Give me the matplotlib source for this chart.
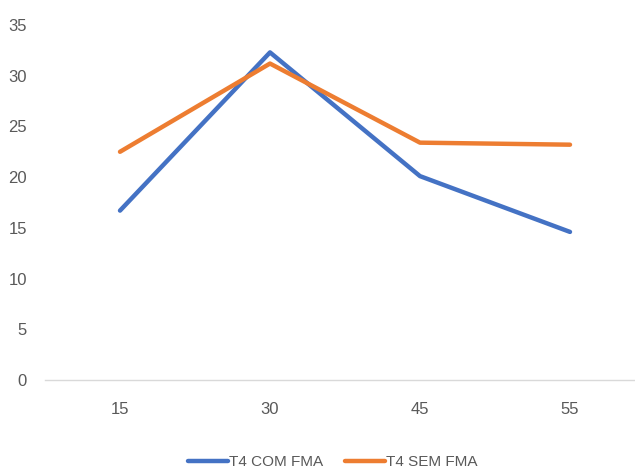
import matplotlib
matplotlib.use("Agg")
import matplotlib.pyplot as plt

categories = ["15", "30", "45", "55"]
com_fma = [16.7, 32.3, 20.1, 14.6]
sem_fma = [22.5, 31.2, 23.4, 23.2]
yticks = [0, 5, 10, 15, 20, 25, 30, 35]

plt.rcParams["font.family"] = ["Liberation Sans", "DejaVu Sans"]

fig = plt.figure(figsize=(6.35, 4.72), dpi=100)
ax = fig.add_axes([45 / 635, 92 / 472, 600 / 635, 355 / 472])

x = range(len(categories))
ax.plot(x, com_fma, color="#4472C4", lw=3.2, label="T4 COM FMA", solid_capstyle="round")
ax.plot(x, sem_fma, color="#ED7D31", lw=3.2, label="T4 SEM FMA", solid_capstyle="round")

ax.set_xlim(-0.5, 3.5)
ax.set_ylim(0, 35)
ax.set_xticks(list(x))
ax.set_xticklabels(categories)
ax.set_yticks(yticks)

for side in ["top", "right", "left"]:
    ax.spines[side].set_visible(False)
ax.spines["bottom"].set_color("#D9D9D9")
ax.spines["bottom"].set_linewidth(1)
ax.tick_params(axis="both", length=0, colors="#595959", labelsize=12)
ax.tick_params(axis="y", pad=13)
ax.tick_params(axis="x", pad=16)

ax.legend(loc="center", bbox_to_anchor=(333 / 635, 10 / 472), bbox_transform=fig.transFigure,
          ncol=2, frameon=False, fontsize=11, labelcolor="#595959",
          handlelength=2.6, handletextpad=0.1, columnspacing=1.4)

fig.savefig("out.png", dpi=100)
